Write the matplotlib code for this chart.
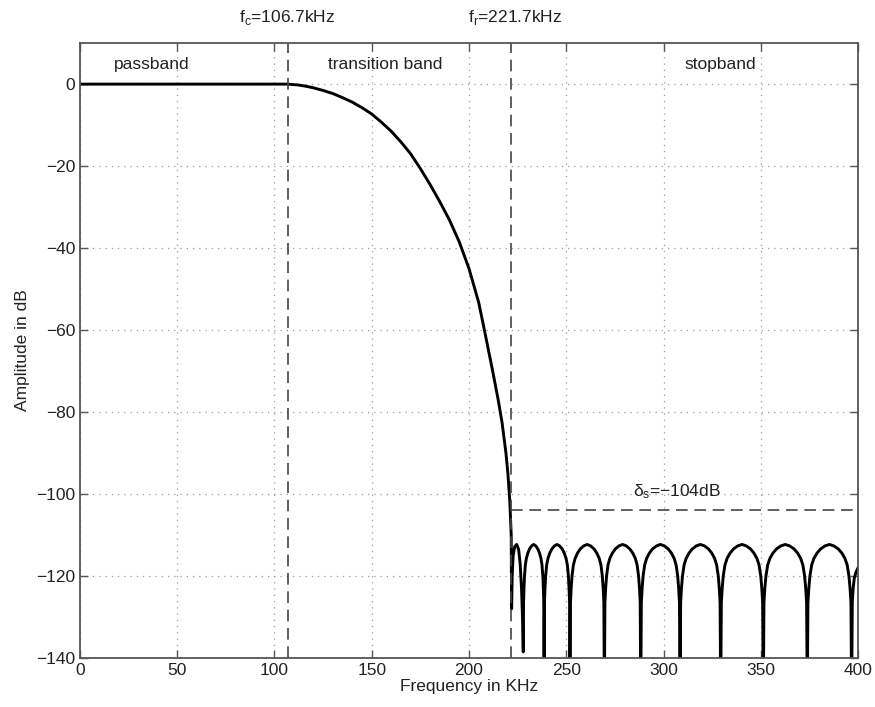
import matplotlib
matplotlib.use('Agg')
import matplotlib.pyplot as plt

plt.rcParams['font.family'] = ['Liberation Sans', 'DejaVu Sans']

# corner frequencies and stopband level (kHz, dB)
f_c = 106.7
f_r = 221.7
delta_s = -104

# passband + transition band
pass_freq = [0, 20, 40, 60, 80, 100, 106.7, 112, 116, 120, 125, 130, 135, 140,
             145, 150, 155, 160, 165, 170, 175, 180, 185, 190, 195, 200, 205,
             208, 212, 215, 217, 219, 220, 221, 221.7]
pass_db = [0, 0, 0, 0, 0, 0, 0, -0.2, -0.5, -0.9, -1.55, -2.3, -3.3, -4.4,
           -5.75, -7.3, -9.3, -11.5, -14.1, -17.0, -20.6, -24.5, -28.7, -33.2,
           -38.5, -45.0, -53.3, -60.2, -69.6, -77.0, -82.6, -90, -95, -102, -110]

# stopband lobes (nulls drop below the axis floor)
stop_freq = [
    221.9, 222.2, 222.7, 223.5, 224.5, 225.5, 226.3, 227.0, 227.5, 227.9,
    228.06, 228.27, 228.54, 228.97, 229.5, 230.25, 231.11, 232.18, 233.25, 234.32, 235.39, 236.25, 236.99, 237.53, 237.96, 238.23, 238.44, 238.6,
    238.8, 239.07, 239.4, 239.93, 240.6, 241.53, 242.59, 243.92, 245.25, 246.58, 247.91, 248.97, 249.9, 250.57, 251.1, 251.43, 251.7, 251.9,
    252.17, 252.52, 252.96, 253.67, 254.56, 255.79, 257.21, 258.98, 260.75, 262.52, 264.29, 265.71, 266.95, 267.83, 268.54, 268.98, 269.33, 269.6,
    269.88, 270.25, 270.72, 271.47, 272.41, 273.71, 275.21, 277.08, 278.95, 280.82, 282.69, 284.19, 285.5, 286.43, 287.18, 287.65, 288.02, 288.3,
    288.6, 289.01, 289.51, 290.32, 291.33, 292.74, 294.36, 296.38, 298.4, 300.42, 302.44, 304.06, 305.47, 306.48, 307.29, 307.79, 308.2, 308.5,
    308.81, 309.23, 309.75, 310.59, 311.64, 313.1, 314.77, 316.86, 318.95, 321.04, 323.13, 324.8, 326.27, 327.31, 328.15, 328.67, 329.09, 329.4,
    329.73, 330.17, 330.71, 331.59, 332.69, 334.22, 335.97, 338.16, 340.35, 342.54, 344.73, 346.48, 348.02, 349.11, 349.99, 350.53, 350.97, 351.3,
    351.64, 352.09, 352.66, 353.56, 354.69, 356.27, 358.08, 360.34, 362.6, 364.86, 367.12, 368.93, 370.51, 371.64, 372.54, 373.11, 373.56, 373.9,
    374.24, 374.7, 375.27, 376.18, 377.32, 378.92, 380.74, 383.02, 385.3, 387.58, 389.86, 391.68, 393.28, 394.42, 395.33, 395.9, 396.36, 396.7,
    397.05, 397.5, 398.08, 399.0, 400.0,
]
stop_db = [
    -128, -120, -115, -112.8, -112.3, -113.5, -117, -123, -130, -138.5,
    -126.5, -123, -120, -117.3, -115.7, -114.4, -113.4, -112.65, -112.3, -112.65, -113.4, -114.4, -115.7, -117.3, -120, -123, -126.5, -150,
    -126.5, -123, -120, -117.3, -115.7, -114.4, -113.4, -112.65, -112.3, -112.65, -113.4, -114.4, -115.7, -117.3, -120, -123, -126.5, -150,
    -126.5, -123, -120, -117.3, -115.7, -114.4, -113.4, -112.65, -112.3, -112.65, -113.4, -114.4, -115.7, -117.3, -120, -123, -126.5, -150,
    -126.5, -123, -120, -117.3, -115.7, -114.4, -113.4, -112.65, -112.3, -112.65, -113.4, -114.4, -115.7, -117.3, -120, -123, -126.5, -150,
    -126.5, -123, -120, -117.3, -115.7, -114.4, -113.4, -112.65, -112.3, -112.65, -113.4, -114.4, -115.7, -117.3, -120, -123, -126.5, -150,
    -126.5, -123, -120, -117.3, -115.7, -114.4, -113.4, -112.65, -112.3, -112.65, -113.4, -114.4, -115.7, -117.3, -120, -123, -126.5, -150,
    -126.5, -123, -120, -117.3, -115.7, -114.4, -113.4, -112.65, -112.3, -112.65, -113.4, -114.4, -115.7, -117.3, -120, -123, -126.5, -150,
    -126.5, -123, -120, -117.3, -115.7, -114.4, -113.4, -112.65, -112.3, -112.65, -113.4, -114.4, -115.7, -117.3, -120, -123, -126.5, -150,
    -126.5, -123, -120, -117.3, -115.7, -114.4, -113.4, -112.65, -112.3, -112.65, -113.4, -114.4, -115.7, -117.3, -120, -123, -126.5, -150,
    -126.5, -123, -120.5, -119, -118,
]

x_ticks = [0, 50, 100, 150, 200, 250, 300, 350, 400]
y_ticks = [-140, -120, -100, -80, -60, -40, -20, 0]

band_labels = ['passband', 'transition band', 'stopband']
band_x = [37, 157, 329]


def main():
    fig = plt.figure(figsize=(8.75, 7.07), dpi=100)
    ax = fig.add_axes([0.0914, 0.0693, 0.8892, 0.8697])

    freq = pass_freq + stop_freq
    db = pass_db + stop_db
    ax.plot(freq, db, color='black', lw=2.1, solid_joinstyle='round')

    # band edges and stopband level
    dash = dict(color='#444444', lw=1.2, dashes=(7, 4))
    ax.axvline(f_c, **dash)
    ax.axvline(f_r, **dash)
    ax.plot([f_r, 400], [delta_s, delta_s], **dash)

    ax.set_xlim(0, 400)
    ax.set_ylim(-140, 10)
    ax.set_xticks(x_ticks)
    ax.set_yticks(y_ticks)
    ax.tick_params(direction='in', length=6, width=1, color='#555555',
                   top=True, right=True, labelsize=12.5, labelcolor='#222222')
    ax.grid(True, color='#9a9a9a', linestyle=(0, (1, 4)), lw=0.9)
    for s in ax.spines.values():
        s.set_color('#555555')
        s.set_linewidth(1.3)

    ax.set_xlabel('Frequency in KHz', fontsize=12.5, color='#222222', labelpad=1)
    ax.set_ylabel('Amplitude in dB', fontsize=12.5, color='#222222', labelpad=4)

    for lab, x in zip(band_labels, band_x):
        ax.text(x, 4.9, lab, ha='center', va='center', fontsize=12.5, color='#222222')

    ax.text(f_c, 16.2, r'f$_\mathregular{c}$=106.7kHz', ha='center', va='center',
            fontsize=12.5, color='#222222', clip_on=False)
    ax.text(f_r + 2, 16.2, r'f$_\mathregular{r}$=221.7kHz', ha='center', va='center',
            fontsize=12.5, color='#222222', clip_on=False)
    ax.text(307, -99.5, '$\\mathregular{\u03b4_s}$=\u2212104dB',
            ha='center', va='center', fontsize=12.5, color='#222222')

    fig.savefig('out.png', dpi=100)


main()
